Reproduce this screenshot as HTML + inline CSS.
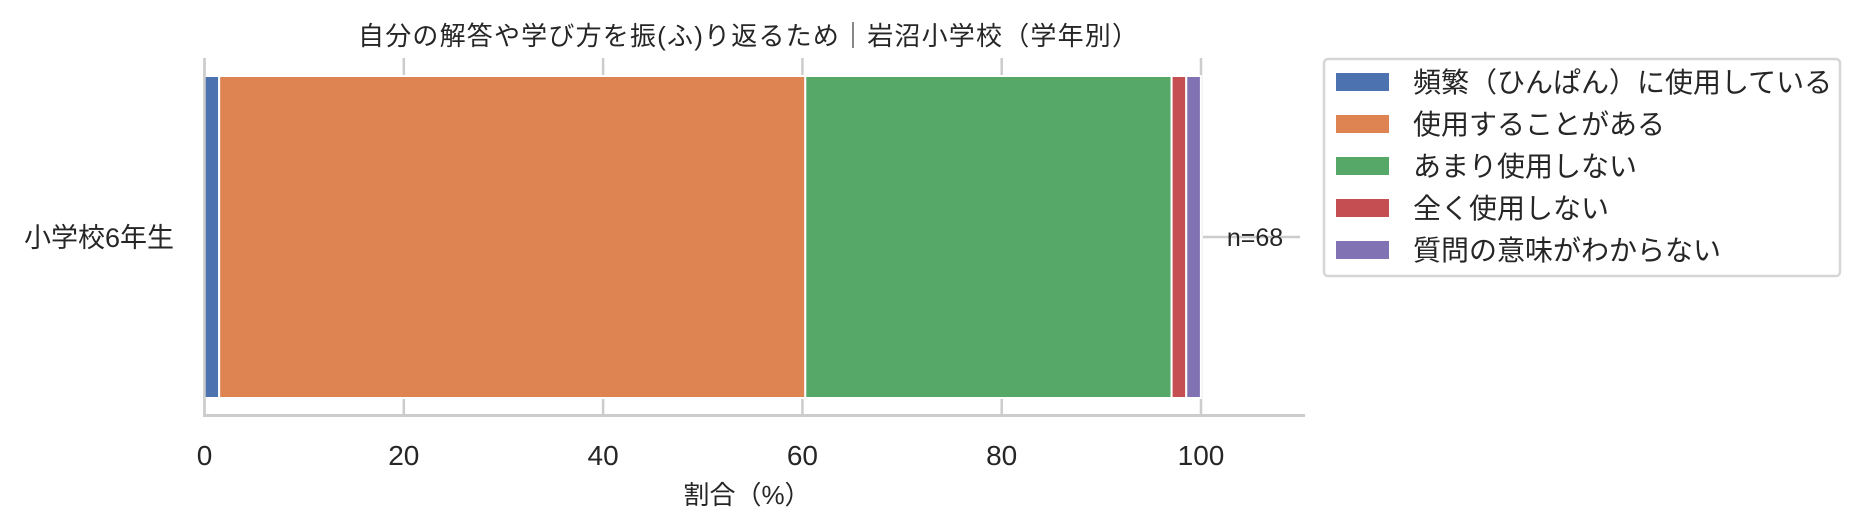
<!DOCTYPE html>
<html><head><meta charset="utf-8"><style>
html,body{margin:0;padding:0;background:#fff;}
svg{display:block;font-family:"Liberation Sans","Noto Sans CJK JP",sans-serif;}
</style></head><body>
<svg id="chart" width="1859" height="528" viewBox="0 0 1859 528" xmlns="http://www.w3.org/2000/svg">
<text x="748" y="45" font-size="26" fill="#262626" text-anchor="middle" textLength="780">自分の解答や学び方を振(ふ)り返るため｜岩沼小学校（学年別）</text>
<g id="grid"></g>
<g id="bars"></g>
<line x1="204.5" y1="58" x2="204.5" y2="416" stroke="#cccccc" stroke-width="2.5"/>
<line x1="203" y1="415.5" x2="1305" y2="415.5" stroke="#cccccc" stroke-width="3"/>
<g id="ticks"></g>
<text x="747" y="504" font-size="26" fill="#262626" text-anchor="middle">割合（%）</text>
<text x="99" y="247" font-size="27" fill="#262626" text-anchor="middle">小学校6年生</text>
<line x1="1203" y1="237" x2="1300" y2="237" stroke="#cccccc" stroke-width="2.5"/>
<text x="1255" y="246" font-size="25" fill="#262626" text-anchor="middle">n=68</text>
<rect x="1324" y="59" width="516" height="217" rx="4" fill="#fff" stroke="#d6d6d6" stroke-width="2.5"/>
<g id="legend"></g>
</svg>
<script>
const categories = ["頻繁（ひんぱん）に使用している","使用することがある","あまり使用しない","全く使用しない","質問の意味がわからない"];
const percents = [1.47, 58.82, 36.76, 1.47, 1.47];
const colors = ["#4c72b0","#dd8452","#55a868","#c44e52","#8172b3"];
const xTicks = [0,20,40,60,80,100];
const NS="http://www.w3.org/2000/svg";
const x0=204.5, x100=1201;
function xs(v){return x0+(x100-x0)*v/100;}
function mk(tag,attrs,parent){const e=document.createElementNS(NS,tag);for(const k in attrs)e.setAttribute(k,attrs[k]);parent.appendChild(e);return e;}
const grid=document.getElementById('grid'), bars=document.getElementById('bars'), ticks=document.getElementById('ticks'), legend=document.getElementById('legend');
xTicks.forEach(t=>{
  const g=mk('line',{x1:xs(t),x2:xs(t),y1:58,y2:415,stroke:'#cccccc','stroke-width':2.5},grid);
  
  
  const l=mk('text',{x:xs(t),y:465,'font-size':28,fill:'#262626','text-anchor':'middle'},ticks);
  l.textContent=t;
  
  
});
let acc=0;
percents.forEach((p,i)=>{
  const r=mk('rect',{x:xs(acc),y:76,width:xs(acc+p)-xs(acc),height:322,fill:colors[i],stroke:'#fff','stroke-width':2},bars);
  
  
  acc+=p;
});
categories.forEach((c,i)=>{
  const y=82+i*42;
  const s=mk('rect',{x:1336,y:y-9,width:53,height:18,fill:colors[i]},legend);
  
  
  const t=mk('text',{x:1413,y:y+10,'font-size':28,fill:'#262626'},legend);
  t.textContent=c;
  
  
});
</script>
</body></html>
